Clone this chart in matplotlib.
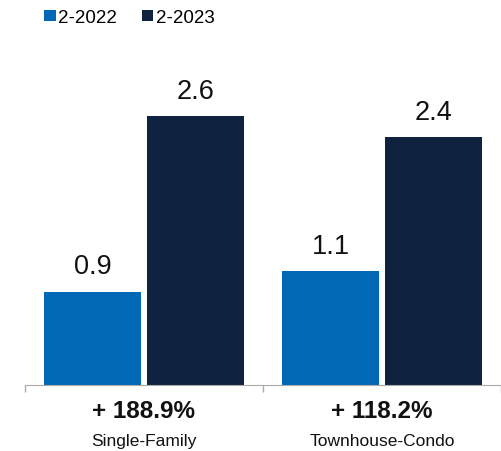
import matplotlib.pyplot as plt
import numpy as np

plt.rcParams['font.family'] = ['Liberation Sans', 'DejaVu Sans']

categories = ["Single-Family", "Townhouse-Condo"]
changes = ["+ 188.9%", "+ 118.2%"]
series_names = ["2-2022", "2-2023"]
values_2022 = [0.9, 1.1]
values_2023 = [2.6, 2.4]
colors = ["#0068b5", "#0f2340"]

fig = plt.figure(figsize=(5.01, 4.52), dpi=100)
ax = fig.add_axes([25 / 501, 66 / 452, 476 / 501, 310 / 452])

x = np.arange(len(categories))
w = 0.407
off = 0.215
b1 = ax.bar(x - off, values_2022, w, color=colors[0], label=series_names[0])
b2 = ax.bar(x + off, values_2023, w, color=colors[1], label=series_names[1])

for bars in (b1, b2):
    for bar in bars:
        h = bar.get_height()
        ax.annotate(f"{h:.1f}", (bar.get_x() + bar.get_width() / 2, h),
                    xytext=(0, 9), textcoords="offset points",
                    ha="center", va="bottom", fontsize=19.5, color="#111111")

ax.set_xlim(-0.5, 1.5)
ax.set_ylim(0, 3.0)
ax.set_yticks([])
ax.set_xticks(x)
ax.set_xticklabels([])
ax.tick_params(axis="x", which="major", length=0)
ax.set_xticks([-0.5, 0.5, 1.5], minor=True)
ax.tick_params(axis="x", which="minor", length=5, color="#aaaaaa", width=1)
for s in ("top", "right", "left"):
    ax.spines[s].set_visible(False)
ax.spines["bottom"].set_color("#aaaaaa")

for i in x:
    ax.annotate(changes[i], (i, 0), xytext=(0, -10), textcoords="offset points",
                ha="center", va="top", fontsize=17.5, fontweight="bold", color="#111111")
    ax.annotate(categories[i], (i, 0), xytext=(0, -34.5), textcoords="offset points",
                ha="center", va="top", fontsize=12.5, color="#111111")

fig.legend(loc="upper left", bbox_to_anchor=(0.055, 1.015), ncol=2, frameon=False,
           fontsize=13.5, handlelength=0.6, handleheight=0.6, handletextpad=0.15,
           columnspacing=1.3)

fig.savefig("out.png", dpi=100)
